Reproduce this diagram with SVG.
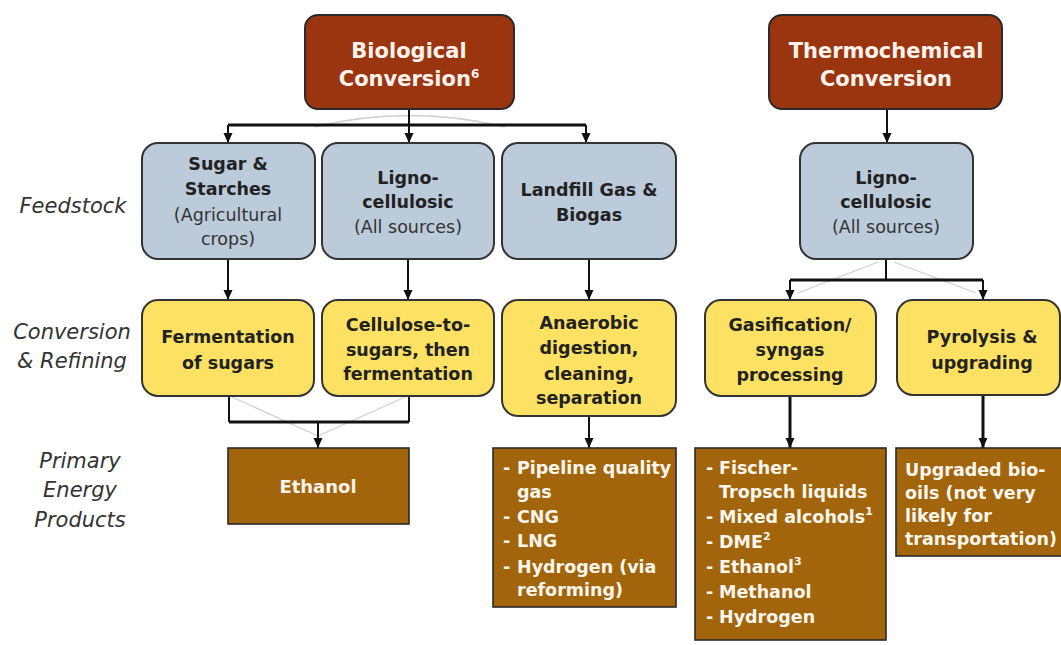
<svg xmlns="http://www.w3.org/2000/svg" width="1061" height="645" viewBox="0 0 1061 645">
<defs>
<marker id="arr" viewBox="0 0 10 10" markerWidth="10" markerHeight="10" markerUnits="userSpaceOnUse" refX="10" refY="5" orient="auto">
<path d="M0,0.5 L10,5 L0,9.5 z" fill="#111"/>
</marker>
</defs>
<style>
text{font-family:"DejaVu Sans","Liberation Sans",Arial,sans-serif;}
.top{fill:#9b3510;stroke:#2a2a2a;stroke-width:2;}
.feed{fill:#bccbda;stroke:#333;stroke-width:2;}
.conv{fill:#fde163;stroke:#333;stroke-width:2;}
.prod{fill:#a2650c;stroke:#2a2a2a;stroke-width:1.6;}
.tt{font-size:21px;font-weight:bold;fill:#fbf3ec;text-anchor:middle;}
.bt{font-size:17.5px;font-weight:bold;fill:#222;text-anchor:middle;}
.rt{font-size:17.5px;fill:#333;text-anchor:middle;}
.pt{font-size:17.5px;font-weight:bold;fill:#fbf7ef;}
.lbl{font-size:21px;font-style:italic;fill:#333;text-anchor:middle;}
.ln{fill:none;stroke:#111;stroke-width:2;}
.thick{fill:none;stroke:#111;stroke-width:3;}
.faint{fill:none;stroke:#cfcfcf;stroke-width:1.3;}
</style>

<g id="labels">
<text class="lbl" x="73" y="213">Feedstock</text>
<text class="lbl" x="72" y="339">Conversion</text>
<text class="lbl" x="72" y="368">&amp; Refining</text>
<text class="lbl" x="80" y="468">Primary</text>
<text class="lbl" x="80" y="497">Energy</text>
<text class="lbl" x="80" y="527">Products</text>
</g>

<g id="connectors">
<path class="faint" d="M315,127 Q409,104 505,127"/>
<path class="faint" d="M232,397 L318,436 M405,397 L318,436"/>
<path class="faint" d="M878,262 L798,293 M894,262 L976,293"/>
<path class="ln" d="M409,109 V125"/>
<path class="thick" d="M228,125 H586"/>
<path class="ln" d="M228,125 V143" marker-end="url(#arr)"/>
<path class="ln" d="M409,125 V143" marker-end="url(#arr)"/>
<path class="ln" d="M586,125 V143" marker-end="url(#arr)"/>
<path class="ln" d="M228,259 V300" marker-end="url(#arr)"/>
<path class="ln" d="M408,259 V300" marker-end="url(#arr)"/>
<path class="ln" d="M589,259 V300" marker-end="url(#arr)"/>
<path class="ln" d="M229,396 V422 M409,396 V422"/>
<path class="thick" d="M229,422 H409"/>
<path class="ln" d="M318,422 V448" marker-end="url(#arr)"/>
<path class="ln" d="M589,416 V448" marker-end="url(#arr)"/>
<path class="ln" d="M887,109 V143" marker-end="url(#arr)"/>
<path class="ln" d="M886,259 V280"/>
<path class="thick" d="M790,280 H983"/>
<path class="ln" d="M790,280 V300" marker-end="url(#arr)"/>
<path class="ln" d="M983,280 V300" marker-end="url(#arr)"/>
<path class="thick" d="M790,396 V448" marker-end="url(#arr)"/>
<path class="thick" d="M983,395 V448" marker-end="url(#arr)"/>
</g>

<g id="bio">
<rect class="top" x="305" y="15" width="209" height="94" rx="13"/>
<text class="tt" x="409" y="58">Biological</text>
<text class="tt" x="409" y="86">Conversion<tspan font-size="12" dy="-8">6</tspan></text>
</g>
<g id="thermo">
<rect class="top" x="769" y="15" width="233" height="94" rx="13"/>
<text class="tt" x="886" y="58">Thermochemical</text>
<text class="tt" x="886" y="86">Conversion</text>
</g>

<g id="sugar">
<rect class="feed" x="142" y="143" width="173" height="116" rx="16"/>
<text class="bt" x="228" y="170">Sugar &amp;</text>
<text class="bt" x="228" y="195">Starches</text>
<text class="rt" x="228" y="221">(Agricultural</text>
<text class="rt" x="228" y="245">crops)</text>
</g>
<g id="ligno">
<rect class="feed" x="322" y="143" width="172" height="116" rx="16"/>
<text class="bt" x="408" y="184">Ligno-</text>
<text class="bt" x="408" y="208">cellulosic</text>
<text class="rt" x="408" y="233">(All sources)</text>
</g>
<g id="landfill">
<rect class="feed" x="502" y="143" width="174" height="116" rx="16"/>
<text class="bt" x="589" y="196">Landfill Gas &amp;</text>
<text class="bt" x="589" y="221">Biogas</text>
</g>
<g id="ligno2">
<rect class="feed" x="800" y="143" width="173" height="116" rx="16"/>
<text class="bt" x="886" y="184">Ligno-</text>
<text class="bt" x="886" y="208">cellulosic</text>
<text class="rt" x="886" y="233">(All sources)</text>
</g>

<g id="fermentation">
<rect class="conv" x="142" y="300" width="172" height="96" rx="16"/>
<text class="bt" x="228" y="343">Fermentation</text>
<text class="bt" x="228" y="369">of sugars</text>
</g>
<g id="cellulose">
<rect class="conv" x="322" y="300" width="172" height="96" rx="16"/>
<text class="bt" x="408" y="331">Cellulose-to-</text>
<text class="bt" x="408" y="356">sugars, then</text>
<text class="bt" x="408" y="380">fermentation</text>
</g>
<g id="anaerobic">
<rect class="conv" x="502" y="300" width="174" height="116" rx="16"/>
<text class="bt" x="589" y="329">Anaerobic</text>
<text class="bt" x="589" y="354">digestion,</text>
<text class="bt" x="589" y="380">cleaning,</text>
<text class="bt" x="589" y="404">separation</text>
</g>
<g id="gasification">
<rect class="conv" x="705" y="300" width="171" height="96" rx="16"/>
<text class="bt" x="790" y="331">Gasification/</text>
<text class="bt" x="790" y="356">syngas</text>
<text class="bt" x="790" y="381">processing</text>
</g>
<g id="pyrolysis">
<rect class="conv" x="897" y="300" width="163" height="95" rx="16"/>
<text class="bt" x="982" y="343">Pyrolysis &amp;</text>
<text class="bt" x="982" y="369">upgrading</text>
</g>

<g id="ethanol">
<rect class="prod" x="228" y="448" width="181" height="76"/>
<text class="tt" x="318" y="493" style="font-size:18px">Ethanol</text>
</g>
<g id="pipeline">
<rect class="prod" x="493" y="448" width="183" height="159"/>
<text class="pt" x="503" y="474">-</text><text class="pt" x="517" y="474">Pipeline quality</text>
<text class="pt" x="517" y="498">gas</text>
<text class="pt" x="503" y="523">-</text><text class="pt" x="517" y="523">CNG</text>
<text class="pt" x="503" y="547">-</text><text class="pt" x="517" y="547">LNG</text>
<text class="pt" x="503" y="573">-</text><text class="pt" x="517" y="573">Hydrogen (via</text>
<text class="pt" x="517" y="596">reforming)</text>
</g>
<g id="fischer">
<rect class="prod" x="695" y="448" width="191" height="192"/>
<text class="pt" x="706" y="474">-</text><text class="pt" x="719" y="474">Fischer-</text>
<text class="pt" x="719" y="498">Tropsch liquids</text>
<text class="pt" x="706" y="523">-</text><text class="pt" x="719" y="523">Mixed alcohols<tspan font-size="11" dy="-8">1</tspan></text>
<text class="pt" x="706" y="548">-</text><text class="pt" x="719" y="548">DME<tspan font-size="11" dy="-8">2</tspan></text>
<text class="pt" x="706" y="573">-</text><text class="pt" x="719" y="573">Ethanol<tspan font-size="11" dy="-8">3</tspan></text>
<text class="pt" x="706" y="598">-</text><text class="pt" x="719" y="598">Methanol</text>
<text class="pt" x="706" y="623">-</text><text class="pt" x="719" y="623">Hydrogen</text>
</g>
<g id="upgraded">
<rect class="prod" x="896" y="448" width="170" height="108"/>
<text class="pt" x="905" y="476">Upgraded bio-</text>
<text class="pt" x="905" y="499">oils (not very</text>
<text class="pt" x="905" y="522">likely for</text>
<text class="pt" x="905" y="545">transportation)</text>
</g>
</svg>
